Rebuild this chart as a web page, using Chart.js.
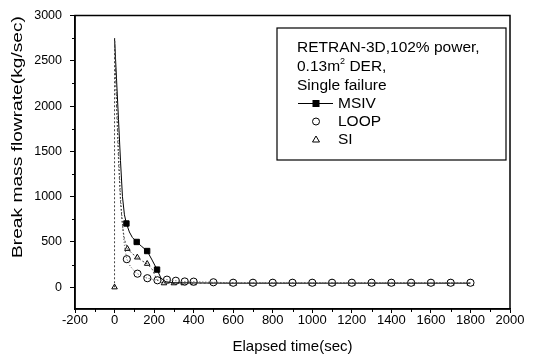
<!DOCTYPE html>
<html>
<head>
<meta charset="utf-8">
<script src="https://cdn.jsdelivr.net/npm/chart.js@4/dist/chart.umd.min.js"></script>
<style>
  html, body { margin: 0; padding: 0; background: #fff; }
  #wrap { width: 535px; height: 357px; position: relative; }
</style>
</head>
<body>
<div id="wrap"><canvas id="flowChart"></canvas></div>
<script>
// break mass flowrate (kg/sec) against elapsed time (sec)
const msivLineTime = [0, 10, 20, 30, 40, 50, 60, 75, 90, 112, 135, 165, 190, 215, 235, 260, 300, 400, 500,
  600, 700, 800, 900, 1000, 1100, 1200, 1300, 1400, 1500, 1600, 1700, 1800];
const msivLineFlow = [2750, 2300, 1850, 1400, 1000, 800, 704, 610, 550, 500, 455, 400, 300, 195, 100, 60, 50, 48, 46,
  45, 45, 45, 45, 45, 45, 45, 45, 45, 45, 45, 45, 45];
const msivMarkTime = [60, 112, 165, 215];
const msivMarkFlow = [704, 500, 400, 195];

const loopLineTime = [0, 10, 20, 30, 40, 50, 62, 80, 100, 116, 140, 166, 190, 217, 240, 265, 310, 355, 400, 450, 500,
  600, 700, 800, 900, 1000, 1100, 1200, 1300, 1400, 1500, 1600, 1700, 1800];
const loopLineFlow = [2750, 2100, 1500, 1000, 700, 460, 310, 230, 180, 150, 120, 100, 88, 77, 80, 84, 72, 64, 62, 58, 55,
  50, 50, 50, 50, 50, 50, 50, 50, 50, 50, 50, 50, 50];
const loopMarkTime = [62, 116, 166, 217, 265, 310, 355, 400, 500,
  600, 700, 800, 900, 1000, 1100, 1200, 1300, 1400, 1500, 1600, 1700, 1800];
const loopMarkFlow = [310, 150, 100, 77, 84, 72, 64, 62, 55,
  50, 50, 50, 50, 50, 50, 50, 50, 50, 50, 50, 50, 50];

const siLineTime = [0, 0, 10, 20, 30, 40, 50, 65, 90, 115, 140, 165, 190, 215, 240, 265, 300, 350, 400, 500,
  600, 700, 800, 900, 1000, 1100, 1200, 1300, 1400, 1500, 1600, 1700, 1800];
const siLineFlow = [0, 2750, 2000, 1400, 950, 680, 530, 425, 370, 330, 290, 260, 200, 80, 50, 45, 45, 45, 45, 45,
  45, 45, 45, 45, 45, 45, 45, 45, 45, 45, 45, 45, 45];
const siMarkTime = [0, 65, 115, 165, 250, 300, 350, 400,
  600, 700, 800, 900, 1000, 1100, 1200, 1300, 1400, 1500, 1600, 1700, 1800];
const siMarkFlow = [0, 425, 330, 260, 45, 45, 45, 45,
  45, 45, 45, 45, 45, 45, 45, 45, 45, 45, 45, 45, 45];

const xTicks = [-200, 0, 200, 400, 600, 800, 1000, 1200, 1400, 1600, 1800, 2000];
const yTicks = [0, 500, 1000, 1500, 2000, 2500, 3000];

const FONT = "'Liberation Sans', Arial, sans-serif";

const pts = (xs, ys) => xs.map((x, i) => ({ x: x, y: ys[i] }));

const frameAndLabels = {
  id: "frameAndLabels",
  afterDraw(chart) {
    const ctx = chart.ctx;
    const a = chart.chartArea;
    const xs = chart.scales.x, ys = chart.scales.y;
    ctx.save();
    ctx.strokeStyle = "#000";
    ctx.lineWidth = 1.5;
    ctx.strokeRect(a.left, a.top, a.right - a.left, a.bottom - a.top);

    // minor ticks, outward
    ctx.lineWidth = 1;
    ctx.beginPath();
    for (let v = -100; v < 2000; v += 200) {
      const px = Math.round(xs.getPixelForValue(v)) + 0.5;
      ctx.moveTo(px, a.bottom);
      ctx.lineTo(px, a.bottom + 3);
    }
    for (let v = 250; v < 3000; v += 500) {
      const py = Math.round(ys.getPixelForValue(v)) + 0.5;
      ctx.moveTo(a.left, py);
      ctx.lineTo(a.left - 3, py);
    }
    ctx.stroke();

    // axis titles
    ctx.fillStyle = "#000";
    ctx.font = "15px " + FONT;
    ctx.textAlign = "center";
    ctx.textBaseline = "middle";
    ctx.fillText("Elapsed time(sec)", (a.left + a.right) / 2, 347);

    const yTitle = "Break mass flowrate(kg/sec)";
    const w = ctx.measureText(yTitle).width;
    ctx.save();
    ctx.translate(18, 137);
    ctx.rotate(-Math.PI / 2);
    ctx.scale(242 / w, 1);
    ctx.fillText(yTitle, 0, 0);
    ctx.restore();

    // legend box
    ctx.lineWidth = 1.2;
    ctx.strokeRect(277, 28, 229, 132);
    ctx.font = "15.5px " + FONT;
    ctx.textAlign = "left";
    ctx.fillText("RETRAN-3D,102% power,", 297, 48);
    ctx.fillText("0.13m", 297, 67);
    let tx = 297 + ctx.measureText("0.13m").width;
    ctx.font = "9px " + FONT;
    ctx.fillText("2", tx, 62);
    tx += ctx.measureText("2").width;
    ctx.font = "15.5px " + FONT;
    ctx.fillText(" DER,", tx, 67);
    ctx.fillText("Single failure", 297, 86);
    ctx.fillText("MSIV", 338, 104);
    ctx.fillText("LOOP", 338, 122);
    ctx.fillText("SI", 338, 140);

    ctx.lineWidth = 1;
    ctx.beginPath();
    ctx.moveTo(298, 103.5);
    ctx.lineTo(333, 103.5);
    ctx.stroke();
    ctx.fillRect(312.5, 100, 7, 7);
    ctx.beginPath();
    ctx.arc(316, 121.5, 3.5, 0, Math.PI * 2);
    ctx.stroke();
    ctx.beginPath();
    ctx.moveTo(316, 136);
    ctx.lineTo(319.5, 142);
    ctx.lineTo(312.5, 142);
    ctx.closePath();
    ctx.stroke();
    ctx.restore();
  }
};

const lineSet = (data, dash, color) => ({
  data: data,
  borderColor: color,
  borderWidth: 1,
  borderDash: dash,
  pointRadius: 0,
  tension: 0,
  fill: false
});

const markSet = (data, style, radius, filled) => ({
  data: data,
  showLine: false,
  pointStyle: style,
  pointRadius: radius,
  pointBorderWidth: 1,
  pointBorderColor: "#000",
  pointBackgroundColor: filled ? "#000" : "#fff"
});

new Chart(document.getElementById("flowChart"), {
  type: "line",
  data: {
    datasets: [
      lineSet(pts(siLineTime, siLineFlow), [2, 2], "#444"),
      lineSet(pts(loopLineTime, loopLineFlow), [1, 2], "#444"),
      lineSet(pts(msivLineTime, msivLineFlow), [], "#000"),
      markSet(pts(loopMarkTime, loopMarkFlow), "circle", 3.6, false),
      markSet(pts(siMarkTime, siMarkFlow), "triangle", ctx => (ctx.raw && ctx.raw.x >= 600 ? 4 : 3.2), false),
      markSet(pts(msivMarkTime, msivMarkFlow), "rect", 3.8, true)
    ]
  },
  options: {
    responsive: true,
    maintainAspectRatio: false,
    animation: false,
    layout: { padding: { top: 13, right: 25, left: 0, bottom: 0 } },
    plugins: { legend: { display: false }, tooltip: { enabled: false } },
    scales: {
      x: {
        type: "linear",
        min: -200,
        max: 2000,
        afterBuildTicks: s => { s.ticks = xTicks.map(v => ({ value: v })); },
        afterFit: s => { s.height = 48; },
        ticks: { color: "#000", font: { size: 13, family: FONT }, padding: 0, maxRotation: 0, callback: v => String(v) },
        grid: { drawOnChartArea: false, tickLength: 4, color: "#000", lineWidth: 1 },
        border: { display: true, color: "#000", width: 1.5 }
      },
      y: {
        type: "linear",
        min: -240,
        max: 3000,
        afterBuildTicks: s => { s.ticks = yTicks.map(v => ({ value: v })); },
        afterFit: s => { s.width = 75; },
        ticks: { color: "#000", font: { size: 12.5, family: FONT }, padding: 8, callback: v => String(v) },
        grid: { drawOnChartArea: false, tickLength: 5, color: "#000", lineWidth: 1 },
        border: { display: true, color: "#000", width: 1.5 }
      }
    }
  },
  plugins: [frameAndLabels]
});
</script>
</body>
</html>
